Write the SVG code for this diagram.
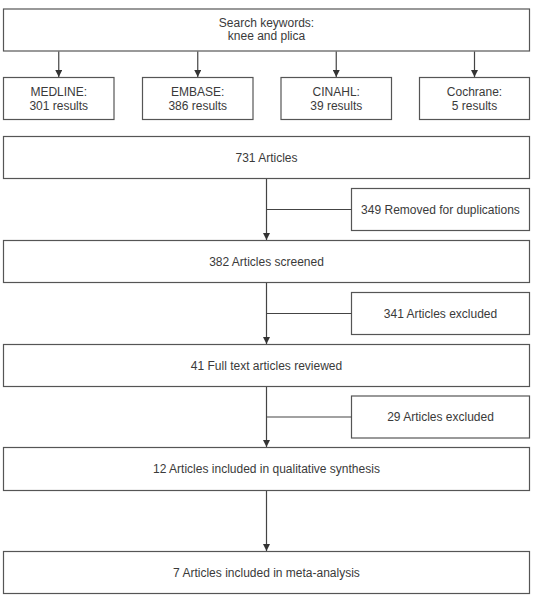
<svg xmlns="http://www.w3.org/2000/svg" width="541" height="595" viewBox="0 0 541 595">
<defs>
<style>
.box{fill:#fff;stroke:#555;stroke-width:1.2}
.t{font-family:"Liberation Sans",Arial,sans-serif;font-size:12px;fill:#3a3a3a;text-anchor:middle}
.c{stroke:#444;stroke-width:1.2;fill:none}
</style>
<marker id="ah" viewBox="0 0 10 10" refX="10" refY="5" markerWidth="7" markerHeight="7" markerUnits="userSpaceOnUse" orient="auto">
<path d="M0,0 L10,5 L0,10 z" fill="#333"/>
</marker>
</defs>
<rect width="541" height="595" fill="#fff"/>
<g id="search"><rect class="box" x="3.5" y="9" width="526" height="42"/><text class="t" x="266.5" y="27">Search keywords:</text><text class="t" x="266.5" y="39.5">knee and plica</text></g>
<g id="medline"><rect class="box" x="3.5" y="77.5" width="110.5" height="42"/><text class="t" x="58.75" y="96">MEDLINE:</text><text class="t" x="58.75" y="110">301 results</text></g>
<g id="embase"><rect class="box" x="142.5" y="77.5" width="110.5" height="42"/><text class="t" x="197.75" y="96">EMBASE:</text><text class="t" x="197.75" y="110">386 results</text></g>
<g id="cinahl"><rect class="box" x="281" y="77.5" width="110.5" height="42"/><text class="t" x="336.25" y="96">CINAHL:</text><text class="t" x="336.25" y="110">39 results</text></g>
<g id="cochrane"><rect class="box" x="419.5" y="77.5" width="110" height="42"/><text class="t" x="474.5" y="96">Cochrane:</text><text class="t" x="474.5" y="110">5 results</text></g>
<g id="n731"><rect class="box" x="3.5" y="136.5" width="526" height="42"/><text class="t" x="266.5" y="161.5">731 Articles</text></g>
<g id="dup"><rect class="box" x="351.5" y="188.5" width="178" height="42"/><text class="t" x="440.5" y="213.5">349 Removed for duplications</text></g>
<g id="n382"><rect class="box" x="3.5" y="240.5" width="526" height="42"/><text class="t" x="266.5" y="265.5">382 Articles screened</text></g>
<g id="ex341"><rect class="box" x="351.5" y="292.5" width="178" height="42"/><text class="t" x="440.5" y="317.5">341 Articles excluded</text></g>
<g id="n41"><rect class="box" x="3.5" y="344.5" width="526" height="42"/><text class="t" x="266.5" y="369.5">41 Full text articles reviewed</text></g>
<g id="ex29"><rect class="box" x="351.5" y="396" width="178" height="42"/><text class="t" x="440.5" y="421">29 Articles excluded</text></g>
<g id="n12"><rect class="box" x="3.5" y="447.5" width="526" height="43"/><text class="t" x="266.5" y="472.5">12 Articles included in qualitative synthesis</text></g>
<g id="n7"><rect class="box" x="3.5" y="551.5" width="526" height="42"/><text class="t" x="266.5" y="576.5">7 Articles included in meta-analysis</text></g>
<g id="connectors">
<line class="c" x1="58.75" y1="51.5" x2="58.75" y2="77" marker-end="url(#ah)"/>
<line class="c" x1="197.75" y1="51.5" x2="197.75" y2="77" marker-end="url(#ah)"/>
<line class="c" x1="336.25" y1="51.5" x2="336.25" y2="77" marker-end="url(#ah)"/>
<line class="c" x1="474.5" y1="51.5" x2="474.5" y2="77" marker-end="url(#ah)"/>
<line class="c" x1="266.5" y1="179" x2="266.5" y2="240" marker-end="url(#ah)"/>
<line class="c" x1="266.5" y1="209.5" x2="351.5" y2="209.5"/>
<line class="c" x1="266.5" y1="283" x2="266.5" y2="344" marker-end="url(#ah)"/>
<line class="c" x1="266.5" y1="313.5" x2="351.5" y2="313.5"/>
<line class="c" x1="266.5" y1="387" x2="266.5" y2="447" marker-end="url(#ah)"/>
<line class="c" x1="266.5" y1="417" x2="351.5" y2="417"/>
<line class="c" x1="266.5" y1="491" x2="266.5" y2="551" marker-end="url(#ah)"/>
</g>
</svg>
